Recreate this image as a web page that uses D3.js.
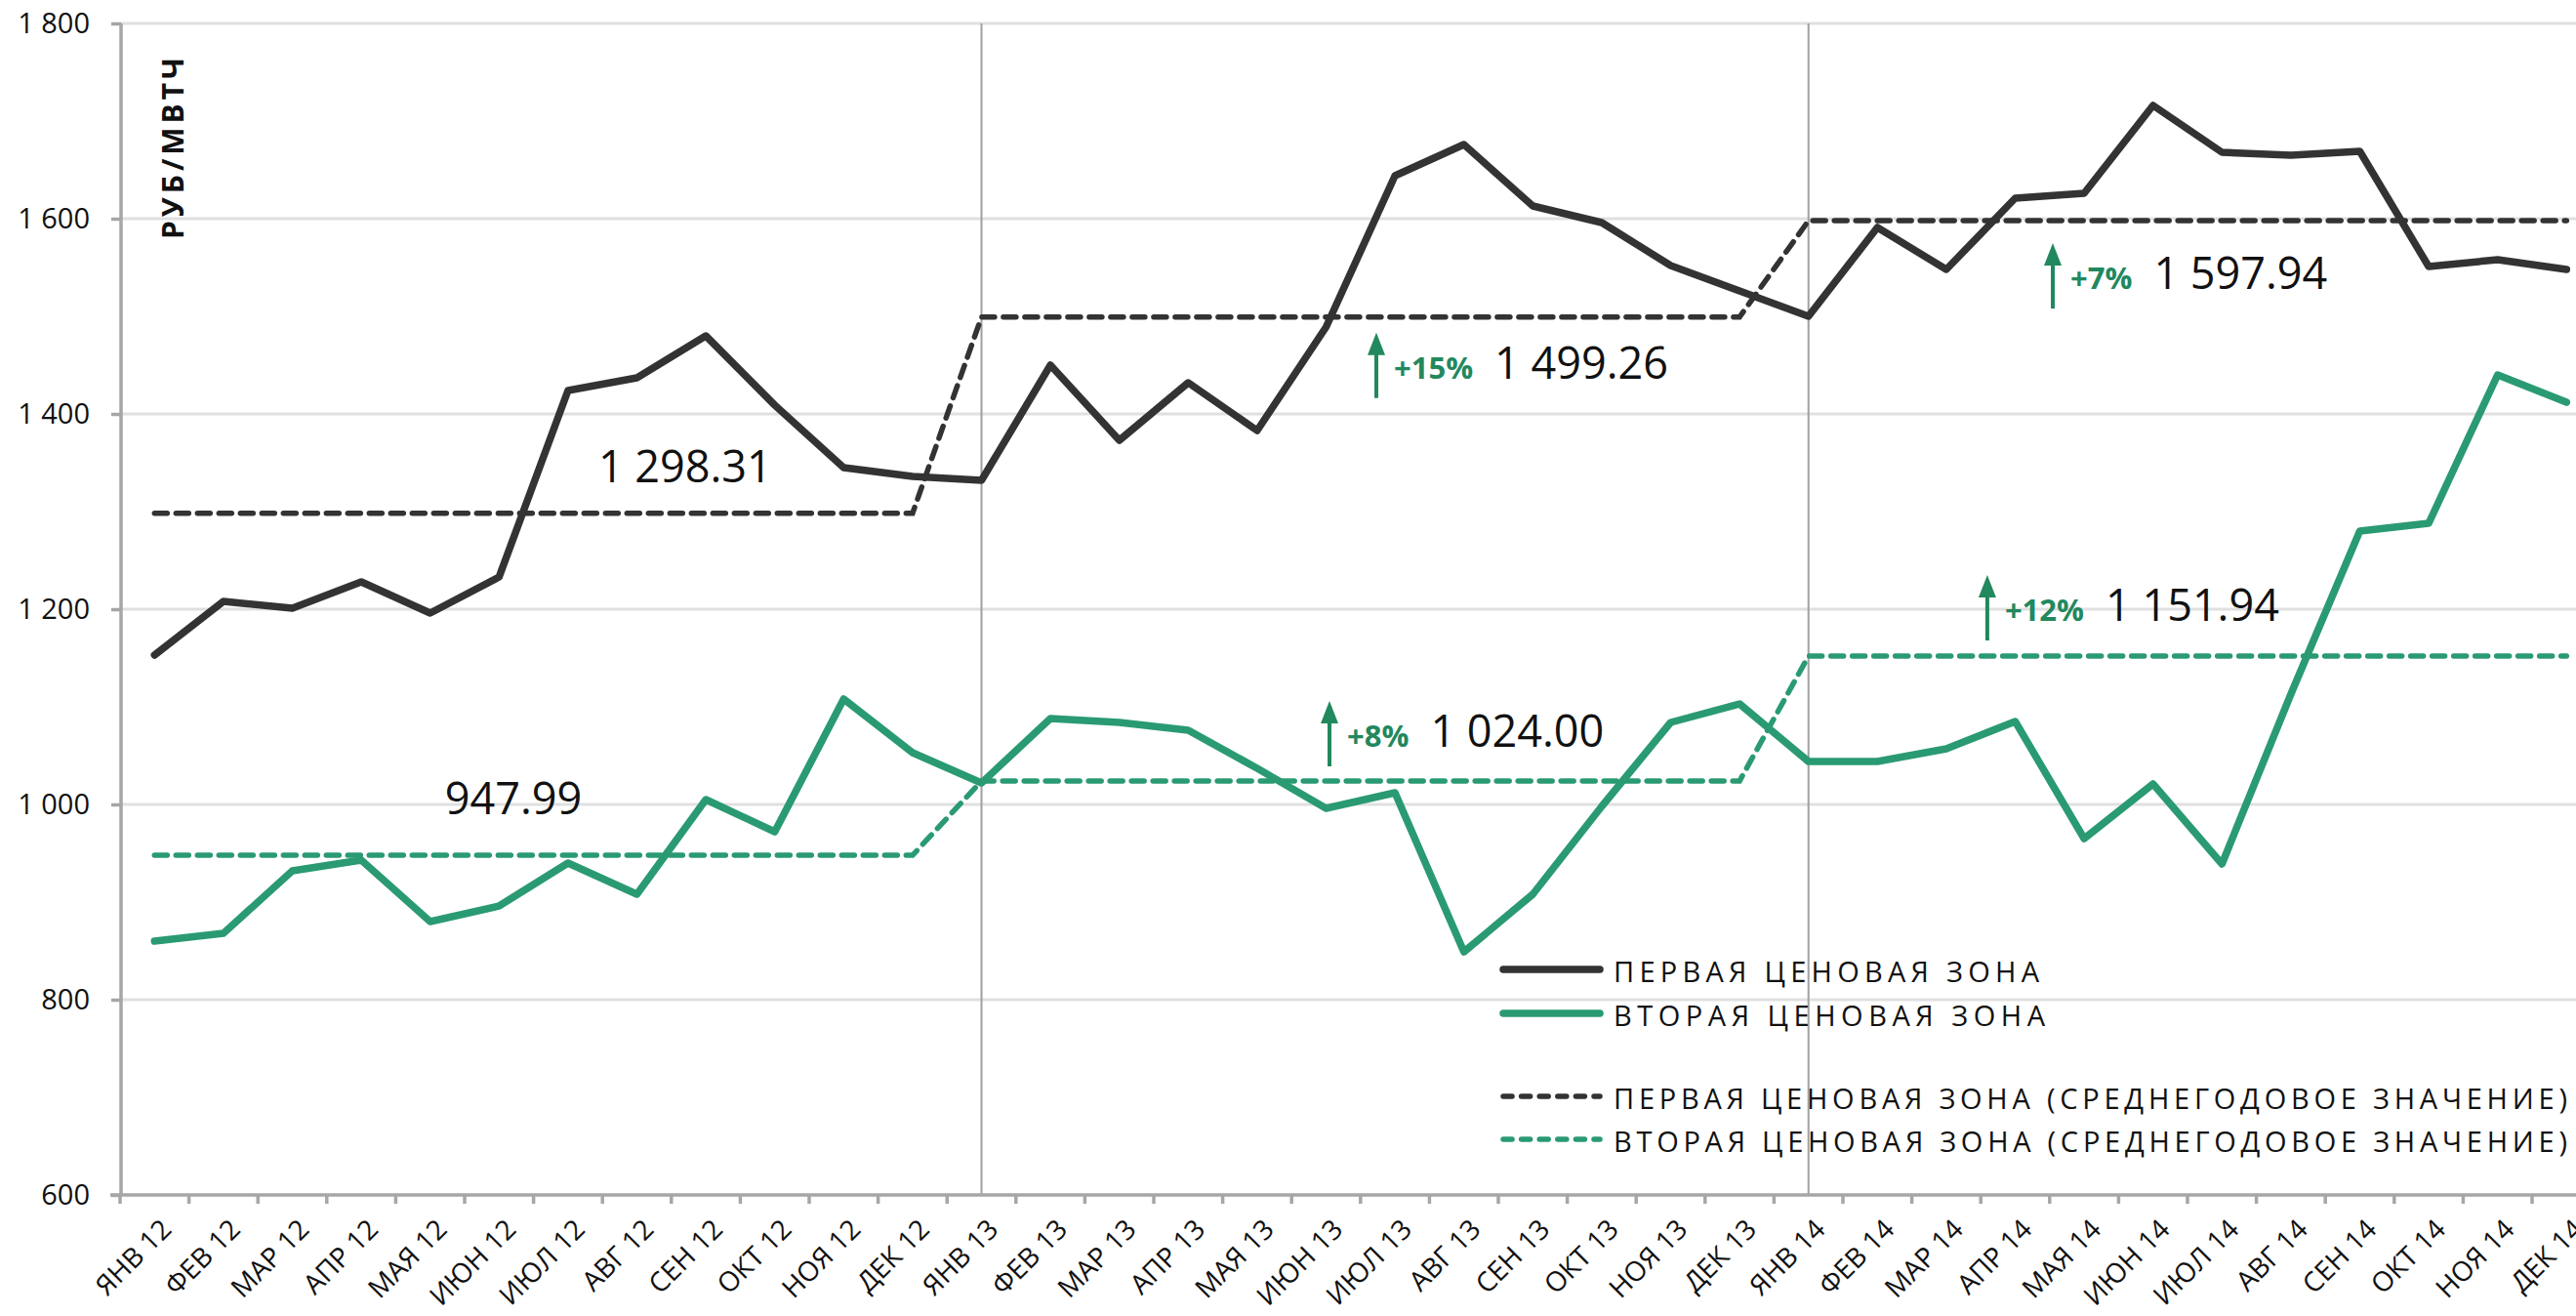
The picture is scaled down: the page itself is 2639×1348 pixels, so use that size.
<!DOCTYPE html>
<html>
<head>
<meta charset="utf-8">
<script src="https://cdn.jsdelivr.net/npm/d3@7"></script>
<style>
  html, body { margin: 0; padding: 0; background: #fff; }
  svg { display: block; font-family: "Open Sans", "Noto Sans", sans-serif; }
</style>
</head>
<body>
<div id="chart"></div>
<script>
// ---- data ----
const months = [
  "ЯНВ 12","ФЕВ 12","МАР 12","АПР 12","МАЯ 12","ИЮН 12","ИЮЛ 12","АВГ 12","СЕН 12","ОКТ 12","НОЯ 12","ДЕК 12",
  "ЯНВ 13","ФЕВ 13","МАР 13","АПР 13","МАЯ 13","ИЮН 13","ИЮЛ 13","АВГ 13","СЕН 13","ОКТ 13","НОЯ 13","ДЕК 13",
  "ЯНВ 14","ФЕВ 14","МАР 14","АПР 14","МАЯ 14","ИЮН 14","ИЮЛ 14","АВГ 14","СЕН 14","ОКТ 14","НОЯ 14","ДЕК 14"
];
const zone1 = [
  1153,1208,1201,1228,1196,1233,1424,1437,1480,1409,1345,1336,
  1332,1450,1373,1432,1383,1489,1644,1676,1613,1596,1552,1526,
  1500,1591,1548,1621,1626,1716,1668,1665,1669,1551,1558,1548
];
const zone2 = [
  860,868,932,943,880,896,940,908,1005,972,1108,1053,
  1022,1088,1084,1076,1037,996,1012,849,908,998,1084,1103,
  1044,1044,1057,1085,965,1021,939,1113,1280,1288,1440,1412
];
const years = ["12", "13", "14"];
const avgZone1 = [1298.31, 1499.26, 1597.94];
const avgZone2 = [947.99, 1024.00, 1151.94];
const growthZone1 = ["", "+15%", "+7%"];
const growthZone2 = ["", "+8%", "+12%"];
const yTicks = [600, 800, 1000, 1200, 1400, 1600, 1800];
const legendLabels = [
  "ПЕРВАЯ ЦЕНОВАЯ ЗОНА",
  "ВТОРАЯ ЦЕНОВАЯ ЗОНА",
  "ПЕРВАЯ ЦЕНОВАЯ ЗОНА (СРЕДНЕГОДОВОЕ ЗНАЧЕНИЕ)",
  "ВТОРАЯ ЦЕНОВАЯ ЗОНА (СРЕДНЕГОДОВОЕ ЗНАЧЕНИЕ)"
];

// ---- setup ----
const width = 2639, height = 1348;
const dark = "#333333", green = "#2a9a72", arrowGreen = "#22885e";
const axisColor = "#a6a6a6", gridColor = "#e0e0e0";

const svg = d3.select("#chart").append("svg")
  .attr("width", width).attr("height", height);
svg.append("rect").attr("width", width).attr("height", height).attr("fill", "#fff");

const x = d3.scaleBand().domain(months).range([123, 123 + 36 * 70.6]);
const xc = m => x(m) + x.bandwidth() / 2;
const y = d3.scaleLinear().domain([600, 1800]).range([1224, 24]);

const fmt = d3.formatLocale({ thousands: " ", grouping: [3], decimal: "." });
const fmtInt = fmt.format(",");
const fmt2 = fmt.format(",.2f");

// yearly averages spread over the months
const avg1 = months.map(m => avgZone1[years.indexOf(m.slice(-2))]);
const avg2 = months.map(m => avgZone2[years.indexOf(m.slice(-2))]);

// gridlines
svg.append("g").selectAll("line")
  .data(yTicks.filter(v => v > 600))
  .join("line")
  .attr("x1", x.range()[0]).attr("x2", width)
  .attr("y1", d => y(d)).attr("y2", d => y(d))
  .attr("stroke", gridColor).attr("stroke-width", 3);

// year separators
svg.append("g").selectAll("line")
  .data(["ЯНВ 13", "ЯНВ 14"])
  .join("line")
  .attr("x1", d => xc(d)).attr("x2", d => xc(d))
  .attr("y1", y(1800)).attr("y2", y(600))
  .attr("stroke", "#a0a0a0").attr("stroke-width", 2);

// y axis
const yAxis = svg.append("g")
  .attr("transform", `translate(${x.range()[0] + 1},0)`)
  .call(d3.axisLeft(y).tickValues(yTicks).tickSize(10).tickPadding(22).tickFormat(fmtInt));
yAxis.select(".domain").attr("stroke", axisColor).attr("stroke-width", 3.5)
  .attr("d", `M0,${y(1800)}V${y(600)}`);
yAxis.selectAll(".tick line").attr("stroke", axisColor).attr("stroke-width", 3.5);
yAxis.selectAll(".tick text").attr("font-size", 29).attr("fill", "#111")
  .attr("font-family", "Open Sans");

// x axis line + boundary ticks
const xAxisG = svg.append("g");
xAxisG.append("line")
  .attr("x1", x.range()[0] - 10).attr("x2", width)
  .attr("y1", y(600)).attr("y2", y(600))
  .attr("stroke", axisColor).attr("stroke-width", 3.5);
xAxisG.selectAll("line.tk")
  .data(months)
  .join("line").attr("class", "tk")
  .attr("x1", d => x(d)).attr("x2", d => x(d))
  .attr("y1", y(600)).attr("y2", y(600) + 9)
  .attr("stroke", axisColor).attr("stroke-width", 3.5);
xAxisG.selectAll("text")
  .data(months)
  .join("text")
  .attr("transform", d => `translate(${xc(d) + 12},${y(600) + 30}) rotate(-45)`)
  .attr("text-anchor", "end")
  .attr("dy", "0.35em")
  .attr("font-size", 28)
  .attr("fill", "#111")
  .text(d => d);

// y axis title
svg.append("text")
  .attr("transform", `translate(188,150) rotate(-90)`)
  .attr("text-anchor", "middle")
  .attr("font-size", 30)
  .attr("font-weight", "bold")
  .attr("letter-spacing", 4)
  .attr("fill", "#111")
  .text("РУБ/МВТЧ");

// lines
const lineGen = d3.line().x((d, i) => xc(months[i])).y(d => y(d));

svg.append("path").datum(avg1)
  .attr("d", lineGen).attr("fill", "none")
  .attr("stroke", dark).attr("stroke-width", 5.5)
  .attr("stroke-dasharray", "13,9").attr("stroke-linecap", "round");
svg.append("path").datum(avg2)
  .attr("d", lineGen).attr("fill", "none")
  .attr("stroke", green).attr("stroke-width", 5.5)
  .attr("stroke-dasharray", "13,9").attr("stroke-linecap", "round");

svg.append("path").datum(zone2)
  .attr("d", lineGen).attr("fill", "none")
  .attr("stroke", green).attr("stroke-width", 7.5)
  .attr("stroke-linejoin", "round").attr("stroke-linecap", "round");
svg.append("path").datum(zone1)
  .attr("d", lineGen).attr("fill", "none")
  .attr("stroke", dark).attr("stroke-width", 7.5)
  .attr("stroke-linejoin", "round").attr("stroke-linecap", "round");

// annotations of yearly averages
const notes = svg.append("g");
function plainNote(value, month, dx, dy) {
  notes.append("text")
    .attr("x", xc(month) + dx).attr("y", y(value) + dy)
    .attr("font-size", 45).attr("fill", "#111")
    .text(fmt2(value));
}
function growthNote(value, pct, month, dx, dy) {
  const ax = xc(month) + dx, base = y(value) + dy;
  const g = notes.append("g");
  g.append("line")
    .attr("x1", ax).attr("x2", ax)
    .attr("y1", base + 20).attr("y2", base - 30)
    .attr("stroke", arrowGreen).attr("stroke-width", 4);
  g.append("path")
    .attr("d", `M${ax},${base - 47}L${ax + 9},${base - 24}L${ax - 9},${base - 24}Z`)
    .attr("fill", arrowGreen);
  const t = g.append("text")
    .attr("x", ax + 18).attr("y", base)
    .attr("font-size", 31).attr("font-weight", "bold").attr("fill", arrowGreen)
    .text(pct);
  const w = t.node().getComputedTextLength();
  g.append("text")
    .attr("x", ax + 18 + w + 22).attr("y", base)
    .attr("font-size", 45).attr("fill", "#111")
    .text(fmt2(value));
}

plainNote(avgZone1[0], "ИЮЛ 12", 31, -32);
plainNote(avgZone2[0], "МАЯ 12", 15, -42);
growthNote(avgZone1[1], growthZone1[1], "ИЮН 13", 51.5, 63);
growthNote(avgZone2[1], growthZone2[1], "ИЮН 13", 3.5, -35);
growthNote(avgZone1[2], growthZone1[2], "АПР 14", 38.5, 70);
growthNote(avgZone2[2], growthZone2[2], "МАР 14", 42, -36);

// legend
const legendRows = [
  { label: legendLabels[0], color: dark, dashed: false, cy: 993, w: 436 },
  { label: legendLabels[1], color: green, dashed: false, cy: 1038, w: 442 },
  { label: legendLabels[2], color: dark, dashed: true, cy: 1123, w: 977 },
  { label: legendLabels[3], color: green, dashed: true, cy: 1167, w: 977 }
];
const legend = svg.append("g");
legendRows.forEach(r => {
  legend.append("line")
    .attr("x1", 1540).attr("x2", 1639)
    .attr("y1", r.cy).attr("y2", r.cy)
    .attr("stroke", r.color)
    .attr("stroke-width", r.dashed ? 5.5 : 7.5)
    .attr("stroke-linecap", "round")
    .attr("stroke-dasharray", r.dashed ? "9,9.6" : null);
  legend.append("text")
    .attr("x", 1653).attr("y", r.cy + 13)
    .attr("font-size", 29).attr("fill", "#111")
    .attr("textLength", r.w).attr("lengthAdjust", "spacing")
    .text(r.label);
});
</script>
</body>
</html>
